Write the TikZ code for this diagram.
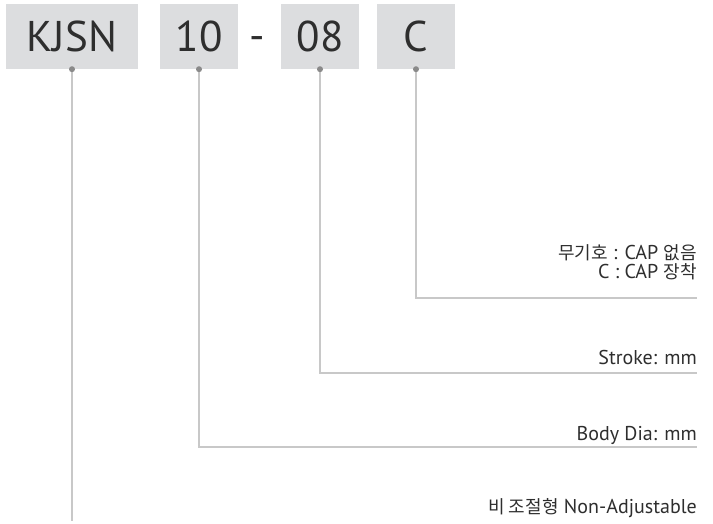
\documentclass[tikz,border=0pt]{standalone}
\usepackage{fontspec}
\setmainfont{PT Sans}
\newfontfamily\kr{Noto Sans CJK KR}[Scale=0.9]
\usetikzlibrary{positioning}
\definecolor{boxgray}{HTML}{DCDDDF}
\definecolor{linegray}{HTML}{C8C8C8}
\definecolor{dotgray}{HTML}{8A8A8A}
\definecolor{txtgray}{HTML}{2E2E2E}

\begin{document}
\begin{tikzpicture}[x=1pt, y=-1pt,
    code/.style={fill=boxgray, minimum width=78pt, minimum height=65pt, inner sep=0, text=txtgray, font=\fontsize{43}{43}\selectfont},
    lbl/.style={anchor=base east, inner sep=0, text=txtgray, font=\fontsize{20}{22}\selectfont},
    lead/.style={draw=linegray, line width=1.4pt},
    pin/.style={circle, fill=dotgray, minimum size=6pt, inner sep=0}]
    \useasboundingbox (0,0) rectangle (713,524);

    \node[code, minimum width=132pt] (series) at (72,36.5) {KJSN};
    \node[code] (dia) at (199,36.5) {10};
    \node[text=txtgray, inner sep=0, font=\fontsize{43}{43}\selectfont] (dash) at (257,44) {-};
    \node[code] (stroke) at (320,36.5) {08};
    \node[code] (cap) at (416,36.5) {C};

    \node[lbl] (capa) at (697,259) {{\kr 무기호} : CAP {\kr 없음}};
    \node[lbl] (capb) at (697,279) {C : CAP {\kr 장착}};
    \node[lbl] (strokelbl) at (697,364) {Stroke: mm};
    \node[lbl] (dialbl) at (697,440) {Body Dia: mm};
    \node[lbl] (serieslbl) at (697,513) {{\kr 비 조절형} Non-Adjustable};

    \coordinate (capend) at (697,298);
    \coordinate (strokeend) at (697,373);
    \coordinate (diaend) at (697,447);
    \coordinate (seriesend) at (72,521);

    \draw[lead] (cap.south) |- (capend);
    \draw[lead] (stroke.south) |- (strokeend);
    \draw[lead] (dia.south) |- (diaend);
    \draw[lead] (series.south) -- (seriesend);

    \node[pin] (capdot) at (cap.south) {};
    \node[pin] (strokedot) at (stroke.south) {};
    \node[pin] (diadot) at (dia.south) {};
    \node[pin] (seriesdot) at (series.south) {};
\end{tikzpicture}
\end{document}
